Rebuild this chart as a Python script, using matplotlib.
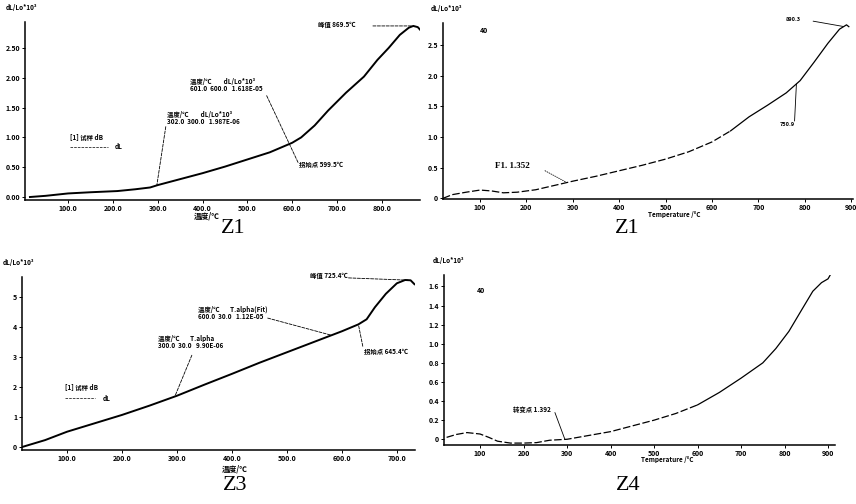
import numpy as np
import matplotlib
matplotlib.use("Agg")
import matplotlib.pyplot as plt

plt.rcParams['font.family'] = ['Noto Sans CJK SC', 'DejaVu Sans']

# ---- thermal expansion curves (temperature in °C, dL/Lo) ----
z1a_temp = [15, 50, 100, 150, 210, 250, 283, 300, 350, 400, 450, 500, 550, 600,
            620, 650, 680, 720, 760, 790, 815, 840, 860, 870, 880, 886]
z1a_dl = [0.00, 0.02, 0.06, 0.08, 0.10, 0.13, 0.16, 0.20, 0.30, 0.40, 0.51, 0.63,
          0.75, 0.91, 1.00, 1.20, 1.45, 1.75, 2.02, 2.30, 2.50, 2.72, 2.84, 2.87,
          2.85, 2.80]

z1b_temp = [20, 40, 70, 100, 125, 150, 180, 220, 260, 300, 350, 400, 450, 500,
            550, 600, 640, 680, 720, 760, 790, 820, 850, 875, 890, 895]
z1b_dl = [0.00, 0.06, 0.10, 0.135, 0.12, 0.09, 0.10, 0.14, 0.21, 0.28, 0.36, 0.45,
          0.54, 0.64, 0.76, 0.92, 1.10, 1.33, 1.52, 1.72, 1.92, 2.22, 2.53, 2.76,
          2.83, 2.80]

z3_temp = [20, 60, 100, 150, 200, 250, 300, 350, 400, 450, 500, 550, 600, 630,
           645, 660, 680, 700, 715, 725, 732]
z3_dl = [0.00, 0.22, 0.50, 0.78, 1.06, 1.37, 1.70, 2.07, 2.43, 2.80, 3.15, 3.50,
         3.85, 4.08, 4.25, 4.65, 5.10, 5.45, 5.56, 5.55, 5.42]

z4_temp = [23, 45, 70, 100, 120, 140, 170, 200, 230, 260, 300, 350, 400, 450, 500,
           550, 600, 650, 700, 750, 780, 810, 840, 865, 885, 900, 905]
z4_dl = [0.02, 0.05, 0.07, 0.055, 0.02, -0.02, -0.04, -0.04, -0.035, -0.01, 0.00,
         0.04, 0.08, 0.14, 0.20, 0.27, 0.36, 0.49, 0.64, 0.80, 0.95, 1.13, 1.36,
         1.55, 1.64, 1.68, 1.72]

# ---- axis ticks ----
z1a_xticks = [100, 200, 300, 400, 500, 600, 700, 800]
z1a_xlabels = ["100.0", "200.0", "300.0", "400.0", "500.0", "600.0", "700.0", "800.0"]
z1a_yticks = [0.0, 0.5, 1.0, 1.5, 2.0, 2.5]
z1a_ylabels = ["0.00", "0.50", "1.00", "1.50", "2.00", "2.50"]

z1b_xticks = [100, 200, 300, 400, 500, 600, 700, 800, 900]
z1b_xlabels = ["100", "200", "300", "400", "500", "600", "700", "800", "900"]
z1b_yticks = [0.0, 0.5, 1.0, 1.5, 2.0, 2.5]
z1b_ylabels = ["0", "0.5", "1.0", "1.5", "2.0", "2.5"]

z3_xticks = [100, 200, 300, 400, 500, 600, 700]
z3_xlabels = ["100.0", "200.0", "300.0", "400.0", "500.0", "600.0", "700.0"]
z3_yticks = [0, 1, 2, 3, 4, 5]
z3_ylabels = ["0", "1", "2", "3", "4", "5"]

z4_xticks = [100, 200, 300, 400, 500, 600, 700, 800, 900]
z4_xlabels = ["100", "200", "300", "400", "500", "600", "700", "800", "900"]
z4_yticks = [0.0, 0.2, 0.4, 0.6, 0.8, 1.0, 1.2, 1.4, 1.6]
z4_ylabels = ["0", "0.2", "0.4", "0.6", "0.8", "1.0", "1.2", "1.4", "1.6"]

W, H = 856, 504
fig = plt.figure(figsize=(W / 100, H / 100), dpi=100)


def make_axes(left, right, top, bottom, xlim, ylim, xt, xl, yt, yl):
    ax = fig.add_axes([left / W, 1 - bottom / H, (right - left) / W, (bottom - top) / H])
    ax.set_xlim(*xlim)
    ax.set_ylim(*ylim)
    for s in ("top", "right"):
        ax.spines[s].set_visible(False)
    for s in ("left", "bottom"):
        ax.spines[s].set_linewidth(1.1)
    ax.set_xticks(xt)
    ax.set_xticklabels(xl)
    ax.set_yticks(yt)
    ax.set_yticklabels(yl)
    ax.tick_params(length=2, width=0.7, pad=1.5, labelsize=5)
    for lab in ax.get_xticklabels() + ax.get_yticklabels():
        lab.set_fontweight("bold")
    return ax


def leader(ax, p0, p1, ls="--"):
    ax.annotate("", xy=p1, xytext=p0, annotation_clip=False,
                arrowprops=dict(arrowstyle="-", lw=0.6, linestyle=ls, color="black",
                                shrinkA=0, shrinkB=0))


small = dict(fontsize=4.6, fontweight="bold", color="black")

# ================= Z1 (left) =================
ax1 = make_axes(25, 420, 22, 200, (4, 885), (-0.05, 2.936),
                z1a_xticks, z1a_xlabels, z1a_yticks, z1a_ylabels)
ax1.plot(z1a_temp, z1a_dl, color="black", lw=1.4)
ax1.text(-0.05, 1.07, "dL/Lo*10³", transform=ax1.transAxes, **small)
ax1.text(410, -0.25, "温度/℃", ha="center", va="top", fontsize=5.5, fontweight="bold")
ax1.text(105, 0.96, "[1] 试样 dB", **small)
ax1.plot([105, 190], [0.84, 0.84], color="black", lw=0.5, ls="--")
ax1.text(205, 0.84, "dL", va="center", **small)
ax1.text(321, 1.34, "温度/℃        dL/Lo*10³", **small)
ax1.text(321, 1.22, "302.0  300.0   1.987E-06", **small)
leader(ax1, (318, 1.18), (298, np.interp(298, z1a_temp, z1a_dl)))
ax1.text(372, 1.90, "温度/℃        dL/Lo*10³", **small)
ax1.text(372, 1.78, "601.0  600.0   1.618E-05", **small)
leader(ax1, (543, 1.70), (613, 0.58))
ax1.text(615, 0.54, "拐始点 599.5℃", va="center", **small)
ax1.text(657, 2.89, "峰值 869.5℃", va="center", **small)
leader(ax1, (780, 2.87), (866, 2.87), ls="--")

# ================= Z1 (right) =================
ax2 = make_axes(443, 853, 23, 199, (20, 904), (-0.011, 2.86),
                z1b_xticks, z1b_xlabels, z1b_yticks, z1b_ylabels)
t2 = np.asarray(z1b_temp)
d2 = np.asarray(z1b_dl)
low = t2 <= 640
ax2.plot(t2[low], d2[low], color="black", lw=0.9, ls=(0, (6, 2)))
ax2.plot(t2[t2 >= 640], d2[t2 >= 640], color="black", lw=0.9)
ax2.text(-0.03, 1.07, "dL/Lo*10³", transform=ax2.transAxes, **small)
ax2.text(518, -0.2, "Temperature /°C", ha="center", va="top", **small)
ax2.text(109, 2.73, "40", ha="center", va="center", fontsize=5, fontweight="bold")
ax2.text(132, 0.53, "F1. 1.352", va="center", fontsize=6.5, fontweight="bold",
         family=["Liberation Serif", "DejaVu Serif"])
leader(ax2, (240, 0.45), (287, np.interp(287, z1b_temp, z1b_dl)), ls=":")
ax2.text(760, 2.92, "890.3", va="center", fontsize=4, fontweight="bold")
leader(ax2, (818, 2.89), (884, np.interp(884, z1b_temp, z1b_dl)), ls="-")
ax2.text(745, 1.21, "750.9", va="center", fontsize=4, fontweight="bold")
leader(ax2, (778, 1.26), (782, np.interp(782, z1b_temp, z1b_dl)), ls="-")

# ================= Z3 =================
ax3 = make_axes(22, 415, 277, 450, (18, 733), (-0.11, 5.66),
                z3_xticks, z3_xlabels, z3_yticks, z3_ylabels)
ax3.plot(z3_temp, z3_dl, color="black", lw=1.4)
ax3.text(-0.05, 1.07, "dL/Lo*10³", transform=ax3.transAxes, **small)
ax3.text(405, -0.58, "温度/℃", ha="center", va="top", fontsize=5.5, fontweight="bold")
ax3.text(96, 1.89, "[1] 试样 dB", **small)
ax3.plot([96, 150], [1.62, 1.62], color="black", lw=0.5, ls="--")
ax3.text(165, 1.62, "dL", va="center", **small)
ax3.text(266, 3.52, "温度/℃       T.alpha", **small)
ax3.text(266, 3.30, "300.0  30.0   9.90E-06", **small)
leader(ax3, (327, 3.05), (296, np.interp(296, z3_temp, z3_dl)))
ax3.text(338, 4.49, "温度/℃       T.alpha(Fit)", **small)
ax3.text(338, 4.27, "600.0  30.0   1.12E-05", **small)
leader(ax3, (465, 4.29), (581, np.interp(581, z3_temp, z3_dl)))
ax3.text(640, 3.18, "拐始点 645.4℃", va="center", **small)
leader(ax3, (638, 3.35), (630, np.interp(630, z3_temp, z3_dl)))
ax3.text(542, 5.72, "峰值 725.4℃", va="center", **small)
leader(ax3, (612, 5.63), (720, np.interp(720, z3_temp, z3_dl)))

# ================= Z4 =================
ax4 = make_axes(444, 835, 275, 445, (17, 916), (-0.06, 1.72),
                z4_xticks, z4_xlabels, z4_yticks, z4_ylabels)
t4 = np.asarray(z4_temp)
d4 = np.asarray(z4_dl)
ax4.plot(t4[t4 <= 600], d4[t4 <= 600], color="black", lw=0.9, ls=(0, (6, 2)))
ax4.plot(t4[t4 >= 600], d4[t4 >= 600], color="black", lw=0.9)
ax4.text(-0.03, 1.07, "dL/Lo*10³", transform=ax4.transAxes, **small)
ax4.text(530, -0.18, "Temperature /°C", ha="center", va="top", **small)
ax4.text(103, 1.56, "40", ha="center", va="center", fontsize=5, fontweight="bold")
ax4.text(176, 0.31, "转变点 1.392", va="center", **small)
leader(ax4, (272, 0.28), (295, np.interp(295, z4_temp, z4_dl)), ls="-")

# ---- captions ----
cap = dict(fontsize=16, ha="center", va="center",
           family=["Liberation Serif", "DejaVu Serif"])
fig.text(233 / W, 1 - 229 / H, "Z1", **cap)
fig.text(627 / W, 1 - 229 / H, "Z1", **cap)
fig.text(235 / W, 1 - 486 / H, "Z3", **cap)
fig.text(628 / W, 1 - 486 / H, "Z4", **cap)

fig.savefig("out.png", dpi=100)
